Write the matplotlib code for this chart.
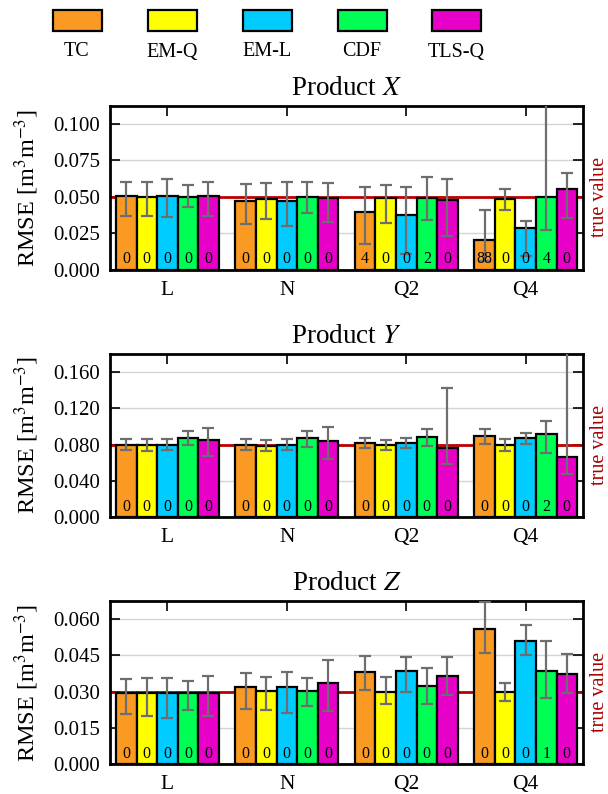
import numpy as np
import matplotlib
matplotlib.use("Agg")
import matplotlib.pyplot as plt
from matplotlib.patches import Rectangle
import matplotlib.transforms as mtransforms

plt.rcParams['font.family'] = ['Liberation Serif', 'DejaVu Serif']
plt.rcParams['mathtext.fontset'] = 'stix'

methods = ["TC", "EM-Q", "EM-L", "CDF", "TLS-Q"]
colors = ["#fa9a23", "#ffff00", "#00ccff", "#00ff55", "#e600c8"]
groups = ["L", "N", "Q2", "Q4"]

# Product X
x_vals = [[0.0506, 0.0500, 0.0505, 0.0500, 0.0505],
          [0.0474, 0.0483, 0.0469, 0.0500, 0.0494],
          [0.0398, 0.0492, 0.0377, 0.0492, 0.0478],
          [0.0207, 0.0483, 0.0285, 0.0501, 0.0552]]
x_hi = [[0.0605, 0.0605, 0.0620, 0.0580, 0.0600],
        [0.0586, 0.0593, 0.0600, 0.0605, 0.0598],
        [0.0568, 0.0580, 0.0570, 0.0640, 0.0620],
        [0.0409, 0.0552, 0.0333, 0.1500, 0.0667]]
x_lo = [[0.0370, 0.0370, 0.0360, 0.0428, 0.0370],
        [0.0313, 0.0350, 0.0303, 0.0390, 0.0329],
        [0.0175, 0.0324, 0.0106, 0.0343, 0.0232],
        [0.0062, 0.0409, 0.0099, 0.0271, 0.0357]]
x_cnt = [[0, 0, 0, 0, 0], [0, 0, 0, 0, 0], [4, 0, 0, 2, 0], [88, 0, 0, 4, 0]]

# Product Y
y_vals = [[0.0800, 0.0794, 0.0794, 0.0875, 0.0857],
          [0.0800, 0.0787, 0.0794, 0.0875, 0.0838],
          [0.0824, 0.0794, 0.0824, 0.0883, 0.0769],
          [0.0897, 0.0794, 0.0872, 0.0919, 0.0669]]
y_hi = [[0.0868, 0.0868, 0.0868, 0.0956, 0.0989],
        [0.0864, 0.0857, 0.0864, 0.0956, 0.1000],
        [0.0879, 0.0857, 0.0879, 0.0978, 0.1423],
        [0.0971, 0.0860, 0.0934, 0.1066, 0.2500]]
y_lo = [[0.0739, 0.0735, 0.0743, 0.0794, 0.0680],
        [0.0739, 0.0730, 0.0739, 0.0780, 0.0647],
        [0.0769, 0.0739, 0.0769, 0.0787, 0.0592],
        [0.0813, 0.0728, 0.0813, 0.0706, 0.0478]]
y_cnt = [[0, 0, 0, 0, 0], [0, 0, 0, 0, 0], [0, 0, 0, 0, 0], [0, 0, 0, 2, 0]]

# Product Z
z_vals = [[0.0296, 0.0294, 0.0296, 0.0296, 0.0294],
          [0.0319, 0.0302, 0.0319, 0.0305, 0.0335],
          [0.0383, 0.0298, 0.0387, 0.0324, 0.0365],
          [0.0560, 0.0300, 0.0509, 0.0386, 0.0374]]
z_hi = [[0.0354, 0.0357, 0.0357, 0.0346, 0.0365],
        [0.0379, 0.0362, 0.0382, 0.0357, 0.0432],
        [0.0447, 0.0361, 0.0443, 0.0396, 0.0445],
        [0.0672, 0.0338, 0.0574, 0.0511, 0.0454]]
z_lo = [[0.0209, 0.0200, 0.0193, 0.0225, 0.0200],
        [0.0230, 0.0225, 0.0214, 0.0243, 0.0222],
        [0.0306, 0.0251, 0.0299, 0.0249, 0.0288],
        [0.0458, 0.0262, 0.0451, 0.0276, 0.0294]]
z_cnt = [[0, 0, 0, 0, 0], [0, 0, 0, 0, 0], [0, 0, 0, 0, 0], [0, 0, 0, 1, 0]]

products = ["X", "Y", "Z"]
true_values = [0.05, 0.08, 0.03]
tick_steps = [0.025, 0.04, 0.015]
tick_max = [0.100, 0.160, 0.060]

panels = [(x_vals, x_hi, x_lo, x_cnt), (y_vals, y_hi, y_lo, y_cnt), (z_vals, z_hi, z_lo, z_cnt)]

fig = plt.figure(figsize=(6.08, 7.94), dpi=100)
axes_pos = [[0.181, 0.660, 0.778, 0.2069],
            [0.181, 0.3485, 0.778, 0.2057],
            [0.181, 0.0374, 0.778, 0.2057]]

bw = 0.172
gx = np.arange(len(groups))
for pi, (vals, hi, lo, cnt) in enumerate(panels):
    ax = fig.add_axes(axes_pos[pi])
    vals = np.array(vals); hi = np.array(hi); lo = np.array(lo)
    ax.set_xlim(-0.48, 3.48)
    ax.set_ylim(0, tick_max[pi] * 1.125)
    yt = np.arange(0, tick_max[pi] + 1e-9, tick_steps[pi])
    ax.set_yticks(yt)
    ax.set_yticklabels(["%.3f" % v for v in yt])
    ax.yaxis.grid(True, color="#d4d4d4", linewidth=1.0, zorder=0)
    ax.set_axisbelow(True)
    ax.axhline(true_values[pi], color="#bb0000", linewidth=2.0, zorder=1)
    for mi in range(len(methods)):
        xs = gx + (mi - 2) * bw
        ax.bar(xs, vals[:, mi], width=bw, color=colors[mi], edgecolor="black",
               linewidth=1.6, zorder=2)
        ax.errorbar(xs, vals[:, mi], yerr=[vals[:, mi] - lo[:, mi], hi[:, mi] - vals[:, mi]],
                    fmt="none", ecolor="#6e6e6e", elinewidth=1.6, capsize=4.6, capthick=1.6,
                    zorder=3)
        for gi in range(len(groups)):
            ax.annotate(str(cnt[gi][mi]), xy=(xs[gi], 0), xytext=(0, 2),
                        textcoords="offset points", ha="center", va="bottom",
                        fontsize=11.5, zorder=4)
    ax.set_xticks(gx)
    ax.set_xticklabels(groups, fontsize=15.5)
    ax.tick_params(axis="x", which="both", direction="in", top=True, bottom=False,
                   length=7.5, width=1.2, pad=8)
    ax.tick_params(axis="y", which="both", direction="in", left=True, right=True,
                   length=7.5, width=1.2, labelsize=15, pad=7)
    for sp in ax.spines.values():
        sp.set_linewidth(2.0)
    ax.set_title("Product $\\mathit{%s}$" % products[pi], fontsize=19.5, pad=8)
    ax.set_ylabel("RMSE [m$^3$m$^{-3}$]", fontsize=17.5, labelpad=9)
    trans = mtransforms.blended_transform_factory(ax.transAxes, ax.transData)
    ax.text(1.015, true_values[pi], "true value", transform=trans, rotation=90,
            va="center", ha="left", color="#aa0000", fontsize=14.5)

# Legend (boxes with labels below)
centers = [77, 172, 267, 362, 456.5]
W, H = 608.0, 794.0
for c, m, col in zip(centers, methods, colors):
    fig.add_artist(Rectangle(((c - 24.5) / W, 1 - 31 / H), 49 / W, 21 / H,
                             facecolor=col, edgecolor="black", linewidth=1.6,
                             transform=fig.transFigure))
    fig.text(c / W, 1 - 52 / H, m, ha="center", va="center", fontsize=14.5)

fig.savefig("out.png", dpi=100)
